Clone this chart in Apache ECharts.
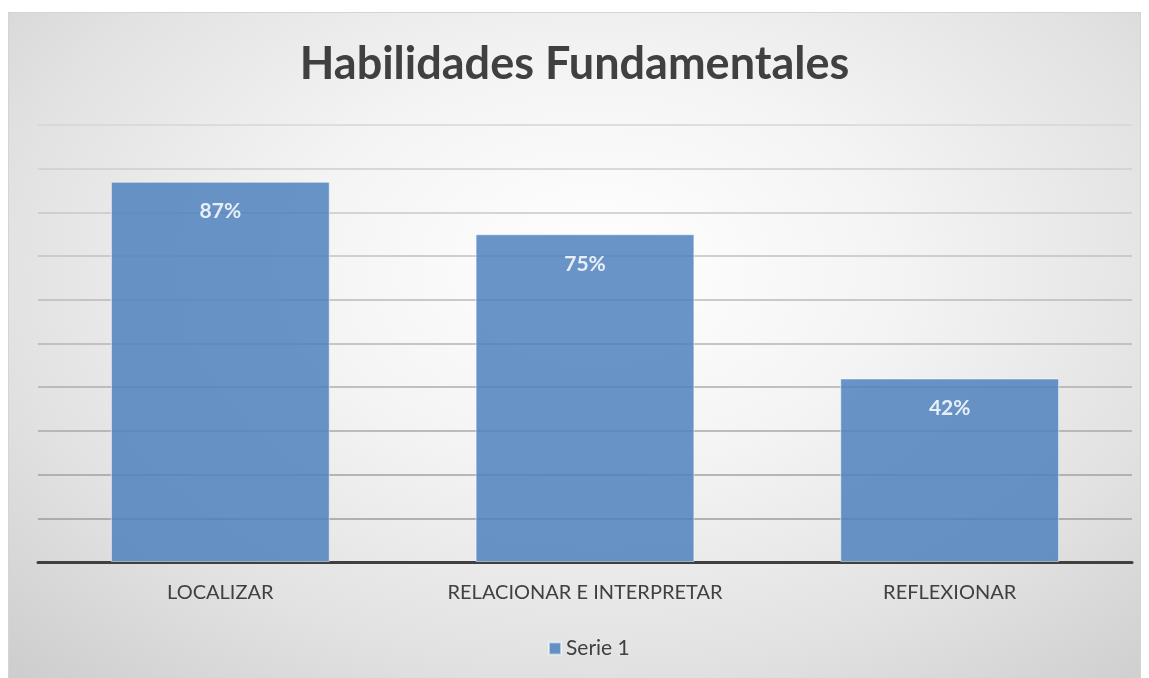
<!DOCTYPE html>
<html>
<head>
<meta charset="utf-8">
<script src="https://cdn.jsdelivr.net/npm/echarts@6/dist/echarts.min.js"></script>
<style>
html,body{margin:0;padding:0;background:#fff;width:1149px;height:678px;overflow:hidden;}
#bg{position:absolute;left:8px;top:12px;width:1133px;height:670px;box-sizing:border-box;border:1px solid #d4d4d4;
background:radial-gradient(ellipse 75% 85% at 52% 38%, #ffffff 0%, #f4f4f4 35%, #e2e2e2 70%, #cdcdcd 100%);}
#chart{position:absolute;left:0;top:0;width:1149px;height:678px;}
</style>
</head>
<body>
<div id="bg"></div>
<div id="chart"></div>
<script>
const titleText = 'Habilidades Fundamentales';
const categories = ['LOCALIZAR', 'RELACIONAR E INTERPRETAR', 'REFLEXIONAR'];
const seriesName = 'Serie 1';
const values = [87, 75, 42];
const yMin = 0, yMax = 100, yStep = 10;

const gridColors = ['#969696','#9c9c9c','#a2a2a2','#a8a8a8','#aeaeae','#b4b4b4','#bababa','#c2c2c2','#c8c8c8','#cecece','#d6d6d6'];

const chart = echarts.init(document.getElementById('chart'), null, {renderer:'canvas'});
chart.setOption({
  animation:false,
  backgroundColor:'transparent',
  title:{text:titleText,left:'center',top:37,textStyle:{fontFamily:'Lato',fontWeight:'bold',fontSize:45,color:'#404040'}},
  grid:{left:38,right:17,top:125,bottom:116,containLabel:false},
  legend:{top:633,left:543,itemWidth:12,itemHeight:12,itemGap:5,icon:'rect',
    textStyle:{fontFamily:'Lato',fontSize:21,color:'#404040'},data:[seriesName]},
  xAxis:{type:'category',data:categories,
    axisLine:{show:true,lineStyle:{color:'#404040',width:3}},
    axisTick:{show:false},
    axisLabel:{margin:21,fontFamily:'Lato',fontSize:20,color:'#404040'}},
  yAxis:{type:'value',min:yMin,max:yMax,interval:yStep,
    axisLine:{show:false},axisTick:{show:false},axisLabel:{show:false},
    splitLine:{show:true,lineStyle:{color:gridColors,width:1.5}}},
  series:[{
    name:seriesName,type:'bar',data:values,barWidth:'60%',z:1,
    itemStyle:{color:'#4f81bd',opacity:0.85,borderColor:'rgba(255,255,255,0.6)',borderWidth:1},
    label:{show:true,position:'insideTop',distance:19,formatter:'{c}%',
      fontFamily:'Lato',fontWeight:'bold',fontSize:21,color:'#ffffff'}
  }]
});
</script>
</body>
</html>
